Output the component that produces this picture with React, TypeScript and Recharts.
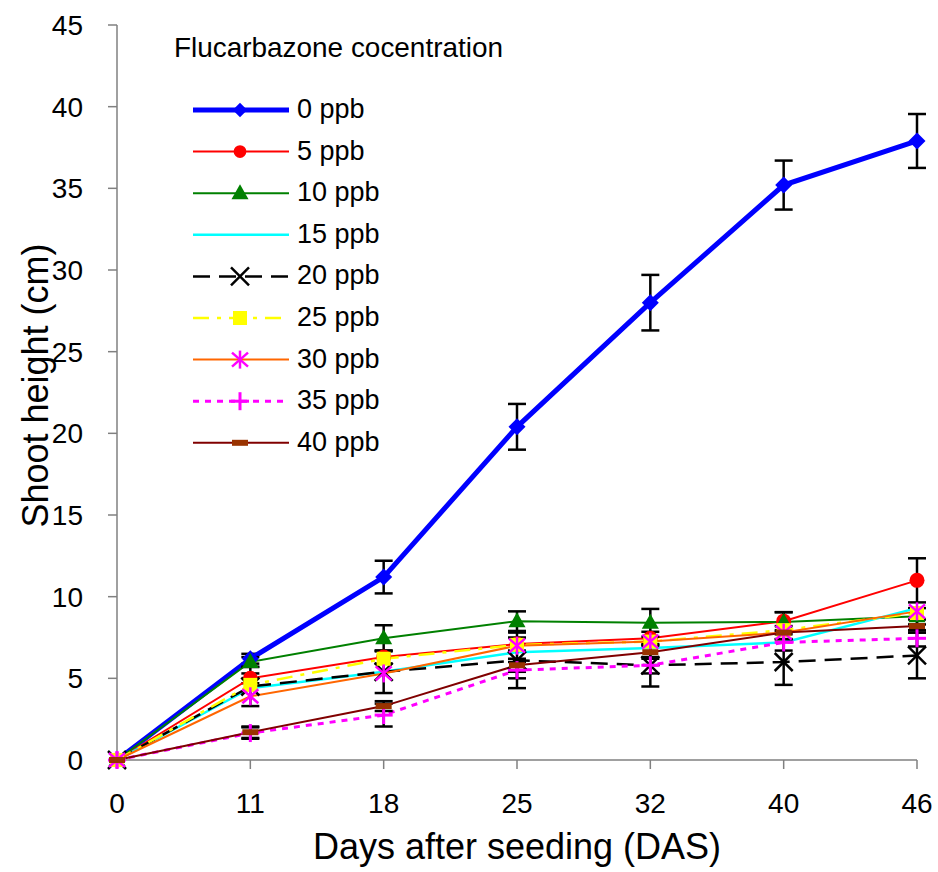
import { ErrorBar, Legend, Line, LineChart, XAxis, YAxis } from "recharts";

const FONT = '"Liberation Sans", Arial, sans-serif';

// days after seeding
const days = ["0", "11", "18", "25", "32", "40", "46"];
const yTicks = [0, 5, 10, 15, 20, 25, 30, 35, 40, 45];

// shoot height (cm) per concentration
const ppb0 = [0, 6.2, 11.2, 20.4, 28.0, 35.2, 37.9];
const ppb5 = [0, 5.0, 6.3, 7.1, 7.45, 8.5, 11.0];
const ppb10 = [0, 6.0, 7.45, 8.5, 8.4, 8.45, 8.8];
const ppb15 = [0, 4.4, 5.4, 6.6, 6.85, 7.2, 9.3];
const ppb20 = [0, 4.5, 5.4, 6.1, 5.8, 6.0, 6.4];
const ppb25 = [0, 4.6, 6.2, 7.05, 7.25, 7.95, 9.0];
const ppb30 = [0, 3.9, 5.3, 7.0, 7.25, 7.8, 9.1];
const ppb35 = [0, 1.65, 2.75, 5.5, 5.8, 7.2, 7.45];
const ppb40 = [0, 1.7, 3.3, 5.8, 6.6, 7.8, 8.2];

// error bar half-lengths
const err0 = [0, 0.3, 1.0, 1.4, 1.7, 1.5, 1.65];
const err5 = [0, 0.3, 0.4, 0.4, 0.4, 0.55, 1.35];
const err10 = [0, 0.3, 0.8, 0.6, 0.85, 0.6, 0.5];
const err20 = [0, 1.2, 1.3, 1.7, 1.3, 1.4, 1.4];
const err35 = [0, 0.35, 0.7, 0.5, 0.5, 0.5, 0.5];
const err40 = [0, 0.35, 0.3, 0.4, 0.4, 0.4, 0.4];

type Shape = "diamond" | "circle" | "triangle" | "none" | "x" | "square" | "asterisk" | "plus" | "dash";

interface SeriesDef {
  key: string;
  name: string;
  values: number[];
  errors?: number[];
  color: string;
  width: number;
  dash?: string;
  shape: Shape;
}

const series: SeriesDef[] = [
  { key: "p0", name: "0 ppb", values: ppb0, errors: err0, color: "#0000FF", width: 5, shape: "diamond" },
  { key: "p5", name: "5 ppb", values: ppb5, errors: err5, color: "#FF0000", width: 2, shape: "circle" },
  { key: "p10", name: "10 ppb", values: ppb10, errors: err10, color: "#008000", width: 2, shape: "triangle" },
  { key: "p15", name: "15 ppb", values: ppb15, color: "#00FFFF", width: 2.5, shape: "none" },
  { key: "p20", name: "20 ppb", values: ppb20, errors: err20, color: "#000000", width: 2.5, dash: "17 9", shape: "x" },
  { key: "p25", name: "25 ppb", values: ppb25, color: "#FFFF00", width: 2.5, dash: "16 8 4 8", shape: "square" },
  { key: "p30", name: "30 ppb", values: ppb30, color: "#FF6600", width: 2, shape: "asterisk" },
  { key: "p35", name: "35 ppb", values: ppb35, errors: err35, color: "#FF00FF", width: 3, dash: "6 6", shape: "plus" },
  { key: "p40", name: "40 ppb", values: ppb40, errors: err40, color: "#800000", width: 2, shape: "dash" },
];

const data = days.map((day, i) => {
  const row: Record<string, string | number> = { day };
  series.forEach((s) => {
    row[s.key] = s.values[i];
    if (s.errors) row[s.key + "Err"] = s.errors[i];
  });
  return row;
});

function Marker({ shape, cx, cy, big }: { shape: Shape; cx: number; cy: number; big: boolean }) {
  const k = big ? 1 : 0.85;
  switch (shape) {
    case "diamond": {
      const s = 8.5 * k;
      return <polygon points={`${cx},${cy - s} ${cx + s},${cy} ${cx},${cy + s} ${cx - s},${cy}`} fill="#0000FF" />;
    }
    case "circle":
      return <circle cx={cx} cy={cy} r={7.5 * k} fill="#FF0000" />;
    case "triangle":
      return <polygon points={`${cx},${cy - 9} ${cx + 8.5},${cy + 6} ${cx - 8.5},${cy + 6}`} fill="#008000" />;
    case "x":
      return (
        <g stroke="#000" strokeWidth={2.5}>
          <line x1={cx - 9} y1={cy - 9} x2={cx + 9} y2={cy + 9} />
          <line x1={cx - 9} y1={cy + 9} x2={cx + 9} y2={cy - 9} />
        </g>
      );
    case "square":
      return <rect x={cx - 7} y={cy - 7} width={14} height={14} fill="#FFFF00" />;
    case "asterisk":
      return (
        <g stroke="#FF00FF" strokeWidth={2.5}>
          <line x1={cx} y1={cy - 9} x2={cx} y2={cy + 9} />
          <line x1={cx - 8} y1={cy - 7} x2={cx + 8} y2={cy + 7} />
          <line x1={cx - 8} y1={cy + 7} x2={cx + 8} y2={cy - 7} />
        </g>
      );
    case "plus":
      return (
        <g stroke="#FF00FF" strokeWidth={3}>
          <line x1={cx} y1={cy - 9} x2={cx} y2={cy + 9} />
          <line x1={cx - 9} y1={cy} x2={cx + 9} y2={cy} />
        </g>
      );
    case "dash":
      return <rect x={cx - 8} y={cy - 3} width={16} height={6} fill="#993300" />;
    default:
      return null;
  }
}

function LegendBox() {
  return (
    <svg width={350} height={440} style={{ fontFamily: FONT }}>
      <text x={14} y={37} fontSize={27.5} fill="#000" textLength={329} lengthAdjust="spacingAndGlyphs">
        Flucarbazone cocentration
      </text>
      {series.map((s, i) => {
        const y = 90 + i * 41.6;
        return (
          <g key={s.key}>
            <line x1={33} y1={y} x2={129} y2={y} stroke={s.color} strokeWidth={s.width} strokeDasharray={s.dash} />
            <Marker shape={s.shape} cx={80} cy={y} big={false} />
            <text x={137} y={y + 8} fontSize={27} fill="#000">
              {s.name}
            </text>
          </g>
        );
      })}
    </svg>
  );
}

export default function App() {
  return (
    <div style={{ width: 938, height: 872, background: "#fff" }}>
      <style>{`body{margin:0}`}</style>
      <LineChart width={938} height={872} data={data} margin={{ top: 25, right: 21, bottom: 0, left: 0 }}>
        <XAxis
          dataKey="day"
          height={112}
          tickSize={9}
          tickMargin={24}
          axisLine={{ stroke: "#808080", strokeWidth: 1.5 }}
          tickLine={{ stroke: "#808080", strokeWidth: 1.5 }}
          tick={{ fill: "#000", fontSize: 28, fontFamily: FONT }}
          label={{
            value: "Days after seeding (DAS)",
            position: "insideBottom",
            offset: 13,
            style: { fontSize: 36, fill: "#000", fontFamily: FONT },
          }}
        />
        <YAxis
          width={117}
          domain={[0, 45]}
          ticks={yTicks}
          interval={0}
          tickSize={9}
          tickMargin={25}
          axisLine={{ stroke: "#808080", strokeWidth: 1.5 }}
          tickLine={{ stroke: "#808080", strokeWidth: 1.5 }}
          tick={{ fill: "#000", fontSize: 28, fontFamily: FONT }}
          label={{
            value: "Shoot height (cm)",
            angle: -90,
            position: "insideLeft",
            offset: 35,
            dy: -7,
            style: { textAnchor: "middle", fontSize: 36, fill: "#000", fontFamily: FONT },
          }}
        />
        <Legend
          layout="vertical"
          align="center"
          verticalAlign="middle"
          content={() => <LegendBox />}
          wrapperStyle={{ position: "absolute", left: 160, top: 20, width: 350, height: 440 }}
        />
        {series.map((s) => (
          <Line
            key={s.key}
            dataKey={s.key}
            name={s.name}
            stroke={s.color}
            strokeWidth={s.width}
            strokeDasharray={s.dash}
            isAnimationActive={false}
            activeDot={false}
            dot={(p: any) => <Marker key={`${s.key}-${p.index}`} shape={s.shape} cx={p.cx} cy={p.cy} big />}
          >
            {s.errors && (
              <ErrorBar dataKey={s.key + "Err"} width={9} stroke="#000" strokeWidth={2.5} direction="y" />
            )}
          </Line>
        ))}
      </LineChart>
    </div>
  );
}
